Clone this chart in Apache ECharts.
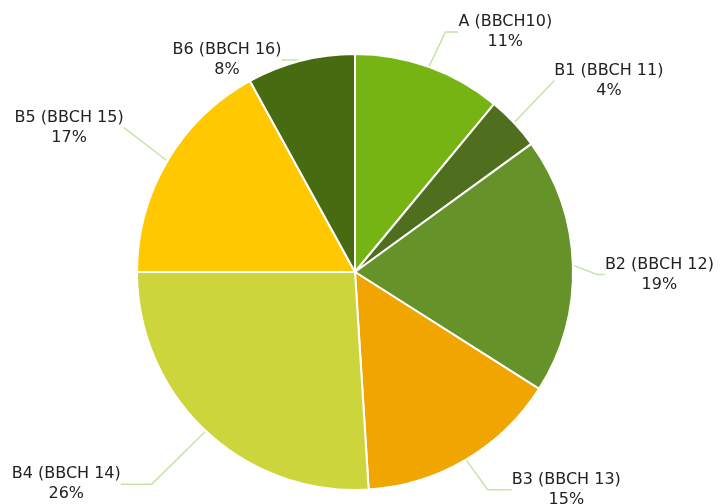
<!DOCTYPE html>
<html><head><meta charset="utf-8">
<script src="https://cdn.jsdelivr.net/npm/echarts@6/dist/echarts.min.js"></script>
<style>html,body{margin:0;padding:0;background:#fff}#c{width:722px;height:504px}</style>
</head><body><div id="c"></div>
<script>
const categories = ['A (BBCH10)', 'B1 (BBCH 11)', 'B2 (BBCH 12)', 'B3 (BBCH 13)', 'B4 (BBCH 14)', 'B5 (BBCH 15)', 'B6 (BBCH 16)'];
const values = [11, 4, 19, 15, 26, 17, 8];
const colors = ['#76B414', '#4F6F1E', '#66922A', '#F0A500', '#CDD53D', '#FFC800', '#476B10'];

// leader-line layout (first radial segment, horizontal segment, vertical label nudge) per slice
const leader = [[37, 13, 0], [50, 0, -8], [20, 8, 10], [35, 24, 0], [73, 31, 0], [45, 1, -10], [1, 15, 0]];

const chart = echarts.init(document.getElementById('c'));
chart.setOption({
  animation: false,
  color: colors,
  series: [{
    type: 'pie',
    center: [355, 272],
    radius: 218,
    startAngle: 90,
    clockwise: true,
    avoidLabelOverlap: false,
    data: categories.map((n, i) => ({
      name: n, value: values[i],
      labelLine: { length: leader[i][0], length2: leader[i][1] }
    })),
    itemStyle: { borderColor: '#fff', borderWidth: 2 },
    label: {
      formatter: '{n|{b}}\n{n|{d}%}',
      fontFamily: 'DejaVu Sans',
      fontSize: 16,
      color: '#222',
      distanceToLabelLine: 4,
      rich: {
        n: { align: 'center', fontFamily: 'DejaVu Sans', fontSize: 16, color: '#222', lineHeight: 20 }
      }
    },
    labelLayout: function (p) {
      const r = p.labelRect;
      const ax = p.align === 'right' ? r.x + r.width : (p.align === 'center' ? r.x + r.width / 2 : r.x);
      return { x: ax, y: r.y + r.height / 2 + leader[p.dataIndex][2] };
    },
    labelLine: {
      lineStyle: { color: '#C6E4A8', width: 1.5 }
    }
  }]
});
</script></body></html>
